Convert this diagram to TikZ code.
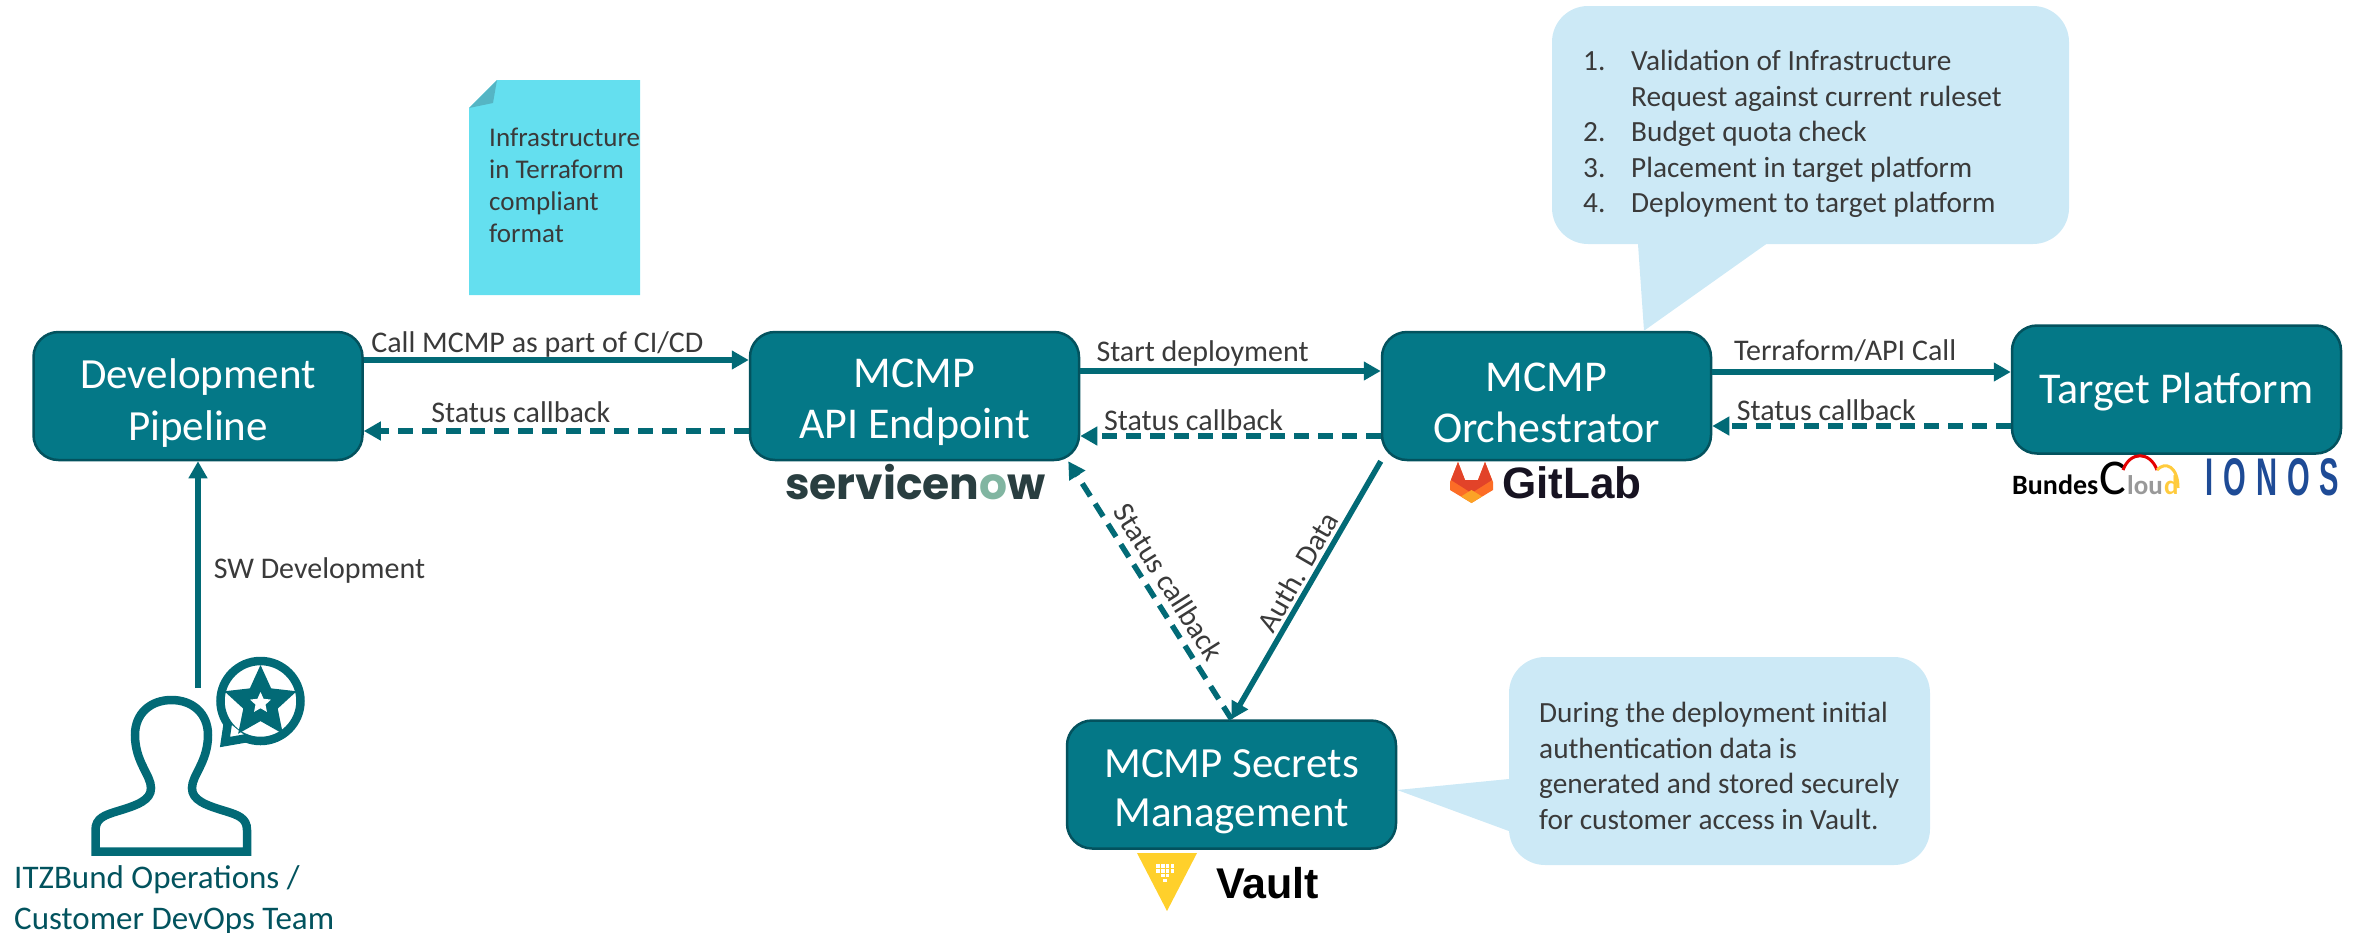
\documentclass[tikz,border=0pt]{standalone}
\usepackage{fontspec}
\setmainfont{Carlito}
\newfontfamily\logofont{Liberation Sans}
\newfontfamily\nowfont{Poppins}
\newfontfamily\ionosfont[FakeStretch=0.55,LetterSpace=19]{Liberation Sans}
\usetikzlibrary{arrows.meta,positioning,shapes.geometric}
\definecolor{boxfill}{HTML}{047887}
\definecolor{boxline}{HTML}{03525E}
\definecolor{flowline}{HTML}{026A76}
\definecolor{notefill}{HTML}{CCE9F6}
\definecolor{docfill}{HTML}{64DFEF}
\definecolor{docfold}{HTML}{55B5C4}
\definecolor{inktext}{HTML}{3A3A3A}
\definecolor{teamtext}{HTML}{02535E}
\definecolor{nowdark}{HTML}{293E40}
\definecolor{nowgreen}{HTML}{81B5A1}
\definecolor{labmid}{HTML}{FC6D26}
\definecolor{labred}{HTML}{E24329}
\definecolor{labgold}{HTML}{FCA326}
\definecolor{labink}{HTML}{171321}
\definecolor{vaultgold}{HTML}{FFD02B}
\definecolor{cloudgold}{HTML}{FFCB3D}
\definecolor{ionosblue}{HTML}{1E4B96}
\newcommand{\boxtop}[1]{\rule{0pt}{#1pt}}

\begin{document}
\begin{tikzpicture}[x=1pt,y=-1pt,on grid,
   box/.style={draw=boxline,line width=2.5pt,fill=boxfill,rounded corners=25pt,text=white,
     minimum width=329pt,minimum height=128pt,align=center,font=\fontsize{44}{51}\selectfont},
   note/.style={fill=notefill,rounded corners=36pt},
   flow/.style={draw=flowline,line width=5.5pt,-{Triangle[length=17pt,width=18pt]}},
   back_flow/.style={dash pattern=on 15pt off 9pt},
   flow_label/.style={text=inktext,font=\fontsize{30}{32}\selectfont,inner sep=3pt},
   note_text/.style={text=inktext,inner sep=0pt,anchor=west,align=left,font=\fontsize{29.3}{35.5}\selectfont},
   logo/.style={inner sep=0pt,anchor=base west},
   icon/.style={draw=flowline,line width=8.5pt}]
   \useasboundingbox (0,0) rectangle (2364,932);

   % main boxes
   \node[box,font=\fontsize{43}{52}\selectfont] (dev_pipe) at (198,396) {\boxtop{43}Development\\Pipeline};
   \node[box] (mcmp_api) [right=716.5pt of dev_pipe] {\boxtop{42}MCMP\\API Endpoint};
   \node[box] (mcmp_orch) [right=632pt of mcmp_api] {\boxtop{42}MCMP\\Orchestrator};
   \node[box] (target) [above right=6.5pt and 630pt of mcmp_orch] {\boxtop{36}Target Platform};
   \node[box,font=\fontsize{43}{49.5}\selectfont] (secrets) [below right=388.5pt and 317pt of mcmp_api] {\boxtop{42}MCMP Secrets\\Management};

   % callouts
   \node[note,minimum width=517pt,minimum height=238pt] (note_orch) at (1810.5,125) {};
   \fill[notefill] ([xshift=-172.5pt]note_orch.south) -- ([xshift=97.5pt]mcmp_orch.north)
      -- ([xshift=-44.5pt]note_orch.south) -- cycle;
   \node[note,minimum width=421pt,minimum height=208pt] (note_secrets) [below right=365pt and 173pt of mcmp_orch] {};
   \fill[notefill] ([yshift=-18pt]note_secrets.west) -- ([yshift=-5.5pt]secrets.east)
      -- ([yshift=-70pt]note_secrets.west) -- cycle;
   \node[note_text] (orch_text) at (1583,134)
      {\makebox[48pt][l]{1.}Validation of Infrastructure\\
       \makebox[48pt][l]{}Request against current ruleset\\
       \makebox[48pt][l]{2.}Budget quota check\\
       \makebox[48pt][l]{3.}Placement in target platform\\
       \makebox[48pt][l]{4.}Deployment to target platform};
   \node[note_text] (secrets_text) at (1539,766)
      {During the deployment initial\\authentication data is\\generated and stored securely\\for customer access in Vault.};

   % terraform sheet
   \fill[docfill] (497,80) -- (640,80) -- (640,295) -- (469,295) -- (469,108) -- cycle;
   \fill[docfold] (497,80) -- (469,108) -- (493,103) -- cycle;
   \node[note_text,font=\fontsize{27}{32.2}\selectfont] (doc_text) at (489,185.5)
      {Infrastructure\\in Terraform\\compliant\\format};

   % team icon
   \draw[icon] (95.5,851.5) -- (95.5,830) .. controls (95.5,818) and (105,815) .. (118,811)
      .. controls (138,805) and (151,800) .. (151,788) .. controls (151,775) and (135,762) .. (135,735)
      .. controls (135,713) and (151,700) .. (171.5,700) .. controls (192,700) and (208,713) .. (208,735)
      .. controls (208,762) and (192,775) .. (192,788) .. controls (192,800) and (205,805) .. (225,811)
      .. controls (238,815) and (247,818) .. (247,830) -- (247,851.5) -- cycle;
   \draw[icon] (260.5,701) circle [radius=40pt];
   \draw[icon,fill=white] (228,722) -- (225,742) -- (248,738);
   \node[star,star points=5,star point ratio=2.1,fill=flowline,minimum size=76pt,inner sep=0pt] (star_out) at (260.5,703) {};
   \node[star,star points=5,star point ratio=2.1,fill=white,minimum size=22pt,inner sep=0pt] (star_in) at (260.5,703) {};
   \coordinate (team_top) at (198,688);
   \node[anchor=north west,inner sep=0pt,align=left,text=teamtext,font=\fontsize{33}{41}\selectfont] (team) at (14,865)
      {ITZBund Operations /\\Customer DevOps Team};

   % logos
   \node[logo,font=\nowfont\bfseries\fontsize{44}{44}\selectfont] (now_logo) at (785,499)
      {\textcolor{nowdark}{servicen}\textcolor{nowgreen}{o}\textcolor{nowdark}{w}};
   \fill[labmid] (1458,462) -- (1450,482) -- (1450,490) -- (1471.5,503)
      -- (1493,490) -- (1493,482) -- (1485,462) -- (1478,480) -- (1465,480) -- cycle;
   \fill[labred] (1458,462) -- (1451,480) -- (1471.5,493) -- (1492,480)
      -- (1485,462) -- (1478,480) -- (1465,480) -- cycle;
   \fill[labgold] (1471.5,503) -- (1461,496.5) -- (1471.5,490) -- (1482,496.5) -- cycle;
   \node[logo,text=labink,font=\logofont\bfseries\fontsize{44}{44}\selectfont] (gitlab_logo) at (1502,498) {GitLab};

   \fill[vaultgold] (1137,853) -- (1197,853) -- (1167,911) -- cycle;
   \foreach \dotx/\doty in {0/0,1/0,2/0,3/0,0/1,1/1,2/1,3/1,1/2,2/2,1.5/3}
      \fill[white] (1158+4.8*\dotx-1.8,866+4.8*\doty-1.8) rectangle ++(3.6,3.6);
   \node[logo,font=\logofont\bfseries\fontsize{43}{43}\selectfont] (vault_logo) at (1216,898) {Vault};

   \node[logo,font=\bfseries\fontsize{28}{28}\selectfont] (bundes_logo) at (2012,494) {Bundes};
   \node[logo,font=\fontsize{50}{50}\selectfont] (cloud_c) at (2099,494) {C};
   \node[logo,text=black!40,font=\bfseries\fontsize{27}{27}\selectfont] (cloud_lou) at (2127,494) {lou};
   \node[logo,text=cloudgold,font=\bfseries\fontsize{27}{27}\selectfont] (cloud_d) at (2164,494) {d};
   \draw[red!90!black,line width=3pt] (2123,470) .. controls (2130,451) and (2150,451) .. (2157,470);
   \draw[cloudgold,line width=3pt] (2157,470) .. controls (2165,461) and (2178,466) .. (2178,488);
   \node[logo,text=ionosblue,font=\ionosfont\bfseries\fontsize{53}{53}\selectfont] (ionos_logo) at (2205,495) {IONOS};

   % connectors
   \path[every edge/.append style={flow}]
    ([yshift=36pt]dev_pipe.east) edge node [flow_label,above,pos=.451,yshift=-3pt] {Call MCMP as part of CI/CD} ([yshift=36pt]mcmp_api.west)
    ([yshift=-35pt]mcmp_api.west) edge [back_flow] node [flow_label,above,pos=.592,yshift=3pt] {Status callback} ([yshift=-35pt]dev_pipe.east)
    ([yshift=25pt]mcmp_api.east) edge node [flow_label,above,pos=.407,yshift=-1.5pt] {Start deployment} ([yshift=25pt]mcmp_orch.west)
    ([yshift=-40pt]mcmp_orch.west) edge [back_flow] node [flow_label,above,pos=.623] {Status callback} ([yshift=-40pt]mcmp_api.east)
    ([yshift=24pt]mcmp_orch.east) edge node [flow_label,above,pos=.445,yshift=4pt] {Terraform/API Call} ([yshift=17.5pt]target.west)
    ([yshift=-36.5pt]target.west) edge [back_flow] node [flow_label,above,pos=.618] {Status callback} ([yshift=-30pt]mcmp_orch.east)
    (mcmp_orch.south west) edge node [flow_label,above,sloped,pos=.46] {Auth. Data} (secrets.north)
    (secrets.north) edge [back_flow] node [flow_label,above=4pt,sloped,pos=.49] {Status callback} ([xshift=-12pt]mcmp_api.south east)
    (team_top) edge node [flow_label,right,pos=.52,xshift=10pt] {SW Development} (dev_pipe.south);
\end{tikzpicture}
\end{document}
